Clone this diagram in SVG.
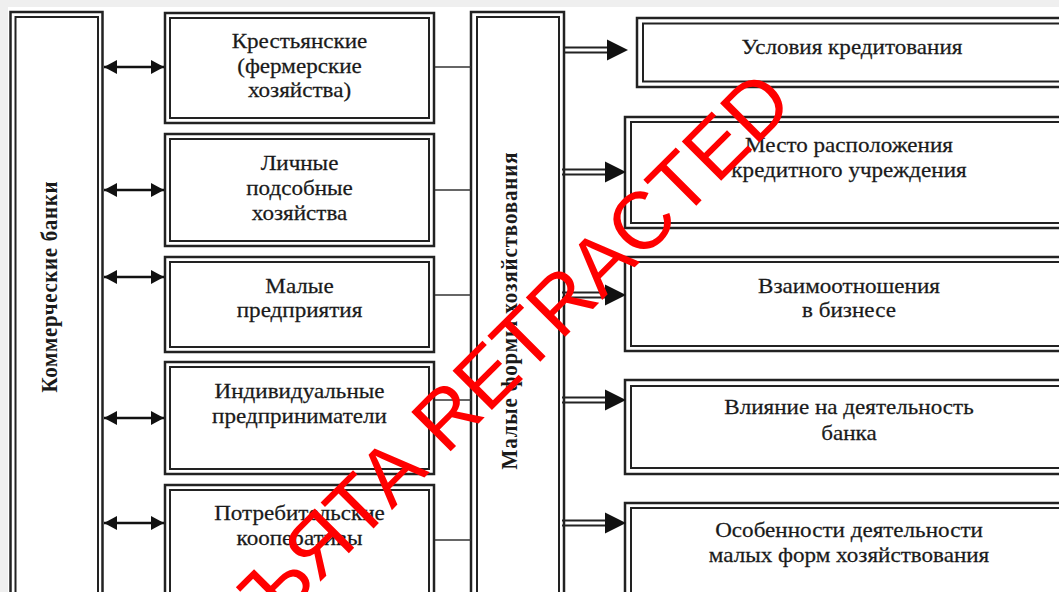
<svg xmlns="http://www.w3.org/2000/svg" xmlns:xlink="http://www.w3.org/1999/xlink" width="1059" height="592" viewBox="0 0 1059 592">
<style>
.o{fill:none;stroke:#222;stroke-width:2.5}
.i{fill:none;stroke:#222;stroke-width:2}
.t{font-family:"Liberation Serif","Times New Roman",serif;font-size:22px;fill:#1a1a1a;stroke:#1a1a1a;stroke-width:0.25;text-anchor:middle}
.v{font-family:"Liberation Serif","Times New Roman",serif;font-size:21px;font-weight:bold;fill:#1a1a1a;text-anchor:middle}
.c{stroke:#333;stroke-width:1.6;fill:none}
.d{stroke:#111;stroke-width:2.5;fill:none;marker-start:url(#ah);marker-end:url(#ah)}
.wm{font-family:"Liberation Sans",Arial,sans-serif;font-size:81px;fill:#ff0000}
</style>
<defs>
<marker id="ah" markerUnits="userSpaceOnUse" markerWidth="14" markerHeight="14" viewBox="0 0 14 14" refX="13" refY="7" orient="auto-start-reverse">
<path d="M0,0 L13,7 L0,14 z" fill="#111"/>
</marker>
<g id="ra">
<line x1="0" y1="-2.5" x2="45" y2="-2.5" stroke="#222" stroke-width="2"/>
<line x1="0" y1="2.5" x2="45" y2="2.5" stroke="#222" stroke-width="2"/>
<polygon points="43,-10.5 64,0 43,10.5" fill="#111"/>
</g>
</defs>
<rect x="0" y="0" width="1059" height="592" fill="#efefef"/>
<rect x="8" y="7" width="1051" height="585" fill="#fff"/>

<g id="banks">
<rect class="o" x="10.5" y="12" width="92" height="600"/>
<rect class="i" x="15.5" y="17" width="82.5" height="600"/>
<text class="v" transform="translate(57,287) rotate(-90) scale(1,1.1)" textLength="211">Коммерческие банки</text>
</g>

<g id="n1">
<rect class="o" x="165" y="13" width="269" height="110"/>
<rect class="i" x="170" y="18" width="259" height="100"/>
<text class="t" transform="translate(299.5,48) scale(1.05,1)">Крестьянские</text>
<text class="t" transform="translate(299.5,72.5) scale(1.05,1)">(фермерские</text>
<text class="t" transform="translate(299.5,97) scale(1.05,1)">хозяйства)</text>
</g>
<g id="n2">
<rect class="o" x="165" y="134" width="269" height="112"/>
<rect class="i" x="170" y="139" width="259" height="102"/>
<text class="t" transform="translate(299.5,170) scale(1.05,1)">Личные</text>
<text class="t" transform="translate(299.5,195) scale(1.05,1)">подсобные</text>
<text class="t" transform="translate(299.5,219.5) scale(1.05,1)">хозяйства</text>
</g>
<g id="n3">
<rect class="o" x="165" y="257" width="269" height="95"/>
<rect class="i" x="170" y="262" width="259" height="85"/>
<text class="t" transform="translate(299.5,293) scale(1.05,1)">Малые</text>
<text class="t" transform="translate(299.5,317) scale(1.05,1)">предприятия</text>
</g>
<g id="n4">
<rect class="o" x="165" y="362" width="269" height="112"/>
<rect class="i" x="170" y="367" width="259" height="102"/>
<text class="t" transform="translate(299.5,398) scale(1.05,1)">Индивидуальные</text>
<text class="t" transform="translate(299.5,423) scale(1.05,1)">предприниматели</text>
</g>
<g id="n5">
<rect class="o" x="165" y="485" width="269" height="130"/>
<rect class="i" x="170" y="490" width="259" height="130"/>
<text class="t" transform="translate(299.5,520) scale(1.05,1)">Потребительские</text>
<text class="t" transform="translate(299.5,545) scale(1.05,1)">кооперативы</text>
</g>

<g id="mid">
<rect class="o" x="471" y="12" width="93" height="600"/>
<rect class="i" x="477" y="17" width="82" height="600"/>
<text class="v" transform="translate(517,311) rotate(-90) scale(1,1.1)" textLength="317">Малые формы хозяйствования</text>
</g>

<g id="r1">
<rect class="o" x="637" y="18" width="440" height="69"/>
<rect class="i" x="643" y="23.5" width="430" height="58"/>
<text class="t" transform="translate(852,54) scale(1.05,1)">Условия кредитования</text>
</g>
<g id="r2">
<rect class="o" x="625" y="117" width="450" height="111"/>
<rect class="i" x="631" y="122" width="440" height="101"/>
<text class="t" transform="translate(849,152) scale(1.05,1)">Место расположения</text>
<text class="t" transform="translate(849,177) scale(1.05,1)">кредитного учреждения</text>
</g>
<g id="r3">
<rect class="o" x="625" y="257" width="450" height="94"/>
<rect class="i" x="631" y="262" width="440" height="84"/>
<text class="t" transform="translate(849,293) scale(1.05,1)">Взаимоотношения</text>
<text class="t" transform="translate(849,317) scale(1.05,1)">в бизнесе</text>
</g>
<g id="r4">
<rect class="o" x="625" y="380" width="450" height="94"/>
<rect class="i" x="631" y="386" width="440" height="82"/>
<text class="t" transform="translate(849,414) scale(1.05,1)">Влияние на деятельность</text>
<text class="t" transform="translate(849,440) scale(1.05,1)">банка</text>
</g>
<g id="r5">
<rect class="o" x="625" y="503" width="450" height="120"/>
<rect class="i" x="631" y="508" width="440" height="120"/>
<text class="t" transform="translate(849,537) scale(1.05,1)">Особенности деятельности</text>
<text class="t" transform="translate(849,562) scale(1.05,1)">малых форм хозяйствования</text>
</g>

<g id="connectors">
<line class="d" x1="104" y1="67" x2="164" y2="67"/>
<line class="d" x1="104" y1="190" x2="164" y2="190"/>
<line class="d" x1="104" y1="277" x2="164" y2="277"/>
<line class="d" x1="104" y1="418" x2="164" y2="418"/>
<line class="d" x1="104" y1="523" x2="164" y2="523"/>
<line class="c" x1="435" y1="67" x2="471" y2="67"/>
<line class="c" x1="435" y1="190" x2="471" y2="190"/>
<line class="c" x1="435" y1="295" x2="471" y2="295"/>
<line class="c" x1="435" y1="400" x2="471" y2="400"/>
<line class="c" x1="435" y1="540" x2="471" y2="540"/>
<use xlink:href="#ra" x="564" y="50"/>
<use xlink:href="#ra" x="562" y="172"/>
<use xlink:href="#ra" x="562" y="295"/>
<use xlink:href="#ra" x="562" y="400"/>
<use xlink:href="#ra" x="562" y="523"/>
</g>

<text class="wm" transform="translate(796,106) rotate(-45)" text-anchor="end">ИЗЪЯТА RETRACTED</text>
</svg>
